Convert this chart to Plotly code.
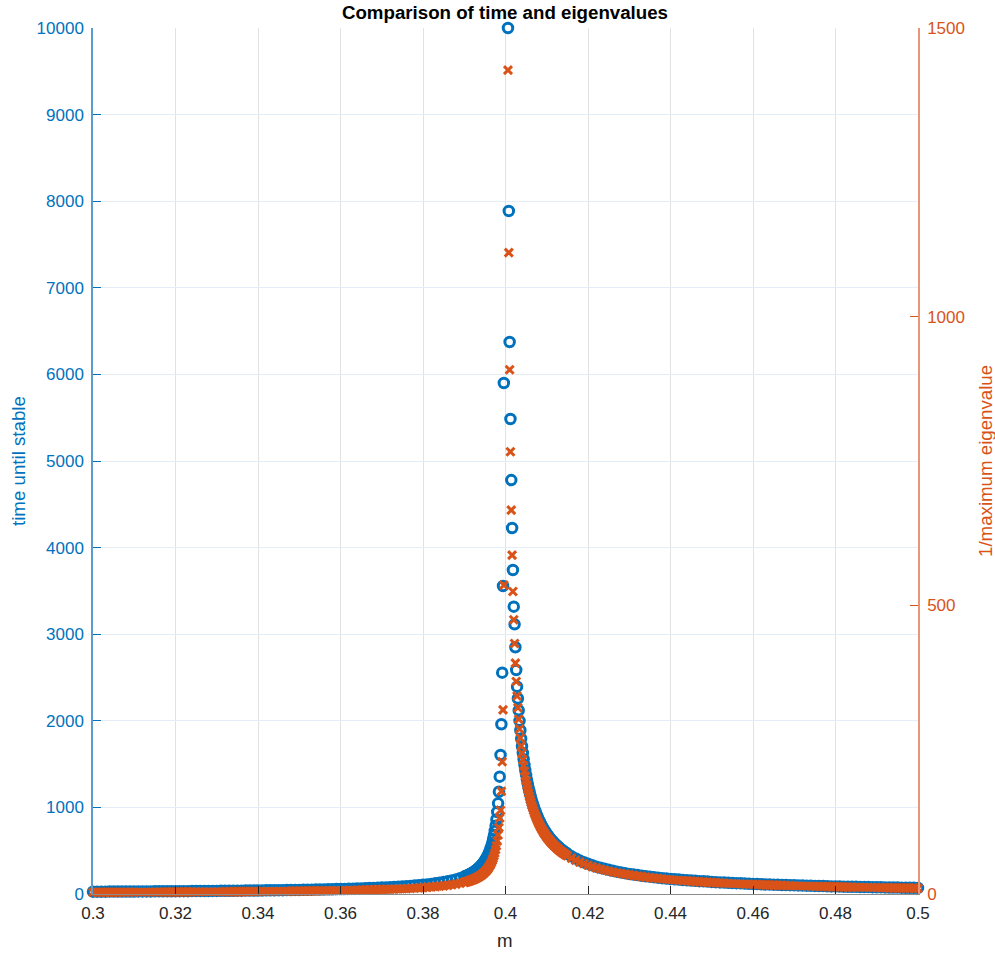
import plotly.graph_objects as go

# ---- sampling grid of the parameter m ----
def grid(start, stop, step):
    n = int(round((stop - start) / step)) + 1
    return [round(start + i * step, 4) for i in range(n)]

m_left_far = grid(0.300, 0.389, 0.001)      # 90 points
m_left_near = grid(0.3900, 0.3996, 0.0002)  # 49 points
m_right_near = grid(0.4006, 0.4150, 0.0002) # 73 points
m_right_far = grid(0.416, 0.500, 0.001)     # 85 points

# ---- time until stable (left axis) ----
time_left_far = [
    26.7, 27.0, 27.2, 27.4, 27.6, 27.9, 28.1, 28.4, 28.6, 28.9,
    29.1, 29.4, 29.7, 30.0, 30.2, 30.5, 30.8, 31.1, 31.5, 31.8,
    32.1, 32.4, 32.8, 33.1, 33.5, 33.9, 34.2, 34.6, 35.0, 35.4,
    35.9, 36.3, 36.7, 37.2, 37.7, 38.1, 38.6, 39.2, 39.7, 40.2,
    40.8, 41.4, 42.0, 42.6, 43.2, 43.9, 44.6, 45.3, 46.0, 46.8,
    47.6, 48.4, 49.3, 50.2, 51.1, 52.1, 53.1, 54.1, 55.3, 56.4,
    57.6, 58.9, 60.2, 61.6, 63.1, 64.7, 66.3, 68.1, 70.0, 71.9,
    74.0, 76.3, 78.7, 81.2, 84.0, 86.9, 90.2, 93.6, 97.4, 101.6,
    106.1, 111.1, 116.7, 122.8, 129.8, 137.6, 146.6, 156.9, 168.8, 182.9,
]
time_left_near = [
    199.8, 203.6, 207.6, 211.7, 216.0, 220.4, 225.1, 230.0, 235.1, 240.5,
    246.1, 252.1, 258.3, 264.9, 271.8, 279.1, 286.9, 295.1, 303.8, 313.1,
    323.0, 333.6, 345.0, 357.2, 370.3, 384.5,
    400, 417, 435, 455, 477, 501, 528, 559, 593, 632,
    676, 728, 788, 860, 947, 1047, 1181, 1355, 1605, 1960,
    2556, 3557, 5901,
]
time_right_near = [
    10000, 7887, 6374, 5485, 4780, 4226, 3741, 3318, 3114, 2849,
    2587, 2394, 2258, 2121, 2000, 1892, 1795, 1707, 1628, 1556,
    1489, 1429, 1373, 1321, 1273, 1228, 1186, 1148, 1111, 1077,
    1045, 1014, 986, 959, 933, 909, 886, 864, 843, 824,
    805, 787, 769, 753, 737, 722, 707, 693, 680, 667,
    654, 642, 631, 619, 609, 598, 588, 579, 569, 560,
    551, 543, 534, 526, 519, 511, 504, 496, 490, 483,
    476, 470, 464,
]
time_right_far = [
    435, 410, 386, 367, 349, 332, 316, 303, 291, 279,
    268, 258, 249, 241, 232, 225, 218, 211, 205, 200,
    194, 189, 183, 179, 174, 170, 167, 162, 159, 155,
    152, 148, 146, 143, 140, 137, 134, 132, 130, 127,
    125, 123, 120, 118, 116, 115, 113, 111, 109, 108,
    106, 104, 103, 102, 100, 99, 97, 96, 95, 93,
    92, 91, 90, 88, 88, 86, 85, 84, 83, 83,
    81, 81, 80, 78, 78, 77, 76, 75, 74, 74,
    73, 72, 71, 71, 70,
]

# ---- 1 / maximum eigenvalue (right axis) ----
eig_left_far = [
    2.98, 3.00, 3.02, 3.05, 3.07, 3.09, 3.12, 3.14, 3.17, 3.20,
    3.23, 3.25, 3.28, 3.31, 3.34, 3.37, 3.40, 3.43, 3.46, 3.50,
    3.53, 3.57, 3.60, 3.64, 3.68, 3.71, 3.75, 3.79, 3.83, 3.88,
    3.92, 3.96, 4.01, 4.06, 4.11, 4.15, 4.21, 4.26, 4.31, 4.37,
    4.43, 4.49, 4.55, 4.61, 4.68, 4.74, 4.81, 4.89, 4.96, 5.04,
    5.12, 5.20, 5.29, 5.38, 5.48, 5.58, 5.68, 5.79, 5.90, 6.02,
    6.14, 6.27, 6.40, 6.54, 6.69, 6.85, 7.02, 7.19, 7.38, 7.58,
    7.79, 8.01, 8.25, 8.51, 8.78, 9.08, 9.40, 9.74, 10.12, 10.53,
    10.98, 11.47, 12.02, 12.63, 13.32, 14.09, 14.97, 15.98, 17.15, 18.53,
]
eig_left_near = [
    20.18, 20.55, 20.93, 21.33, 21.75, 22.19, 22.64, 23.12, 23.61, 24.14,
    24.68, 25.26, 25.86, 26.50, 27.17, 27.88, 28.63, 29.43, 30.27, 31.17,
    32.13, 33.15, 34.25, 35.43, 36.69, 38.06,
    39.5, 41.2, 42.9, 44.8, 47.0, 49.3, 51.9, 54.8, 58.1, 61.8,
    66.1, 71.0, 76.8, 83.6, 91.9, 102.1, 115.0, 131.7, 145, 178,
    229, 319, 535,
]
eig_right_near = [
    1427, 1111, 908, 766, 665, 587, 524, 475, 434, 400,
    368, 343, 322.6, 303.0, 285.7, 270.3, 256.4, 243.9, 232.6, 222.2,
    212.8, 204.1, 196.1, 188.7, 181.8, 175.4, 169.5, 163.9, 158.7, 153.8,
    149.3, 144.9, 140.8, 137.0, 133.3, 129.9, 126.6, 123.5, 120.5, 117.6,
    114.9, 112.4, 109.9, 107.5, 105.3, 103.1, 101.0, 99.0, 97.1, 95.2,
    93.5, 91.7, 90.1, 88.5, 87.0, 85.5, 84.0, 82.6, 81.3, 80.0,
    78.7, 77.5, 76.3, 75.2, 74.1, 73.0, 71.9, 70.9, 69.9, 69.0,
    68.0, 67.1, 66.2,
]
eig_right_far = [
    62.1, 58.5, 55.2, 52.4, 49.8, 47.4, 45.2, 43.3, 41.5, 39.8,
    38.3, 36.9, 35.6, 34.4, 33.2, 32.2, 31.2, 30.2, 29.3, 28.5,
    27.7, 27.0, 26.2, 25.6, 24.9, 24.3, 23.8, 23.2, 22.7, 22.2,
    21.7, 21.2, 20.8, 20.4, 20.0, 19.6, 19.2, 18.8, 18.5, 18.1,
    17.8, 17.5, 17.2, 16.9, 16.6, 16.4, 16.1, 15.8, 15.6, 15.4,
    15.1, 14.9, 14.7, 14.5, 14.3, 14.1, 13.9, 13.7, 13.5, 13.3,
    13.1, 13.0, 12.8, 12.6, 12.5, 12.3, 12.2, 12.0, 11.9, 11.8,
    11.6, 11.5, 11.4, 11.2, 11.1, 11.0, 10.9, 10.7, 10.6, 10.5,
    10.4, 10.3, 10.2, 10.1, 10.0,
]

# ---- tick labels ----
x_ticks = [0.30, 0.32, 0.34, 0.36, 0.38, 0.40, 0.42, 0.44, 0.46, 0.48, 0.50]
x_tick_labels = ["0.3", "0.32", "0.34", "0.36", "0.38", "0.4",
                 "0.42", "0.44", "0.46", "0.48", "0.5"]
time_ticks = list(range(0, 10001, 1000))
time_tick_labels = [str(v) for v in time_ticks]
eig_ticks = [0, 500, 1000, 1500]
eig_tick_labels = ["0", "500", "1000", "1500"]

m_all = m_left_far + m_left_near + m_right_near + m_right_far
time_all = time_left_far + time_left_near + time_right_near + time_right_far
eig_all = eig_left_far + eig_left_near + eig_right_near + eig_right_far
assert len(m_left_far) == len(time_left_far) == len(eig_left_far)
assert len(m_left_near) == len(time_left_near) == len(eig_left_near)
assert len(m_right_near) == len(time_right_near) == len(eig_right_near)
assert len(m_right_far) == len(time_right_far) == len(eig_right_far)

BLUE = "#0072BD"
ORANGE = "#D95319"
DARK = "#262626"
FONT = "Liberation Sans, Arial, Helvetica, sans-serif"

fig = go.Figure()
fig.add_trace(go.Scatter(
    x=m_all, y=time_all, mode="markers", yaxis="y", cliponaxis=False,
    marker=dict(symbol="circle-open", size=9.5, color=BLUE,
                line=dict(color=BLUE, width=3)),
    name="time until stable",
))
fig.add_trace(go.Scatter(
    x=m_all, y=eig_all, mode="markers", yaxis="y2", cliponaxis=False,
    marker=dict(symbol="x-thin", size=8, color=ORANGE,
                line=dict(color=ORANGE, width=3)),
    name="1/maximum eigenvalue",
))

fig.update_layout(
    width=995, height=953,
    margin=dict(l=93, r=77, t=28, b=59),
    paper_bgcolor="white", plot_bgcolor="white",
    showlegend=False,
    font=dict(family=FONT, size=17, color=DARK),
    title=dict(text="Comparison of time and eigenvalues",
               font=dict(family=FONT, size=18.7, color="black", weight="bold"),
               x=(505 / 995), xanchor="center",
               y=1 - 12 / 953, yref="container", yanchor="middle"),
    xaxis=dict(
        range=[0.3, 0.5], tickvals=x_ticks, ticktext=x_tick_labels,
        showline=True, linecolor="#8c8c8c", linewidth=1,
        ticks="inside", ticklen=8, tickcolor=DARK, tickwidth=1,
        showgrid=True, gridcolor="#e2e2e2", gridwidth=1,
        zeroline=False, tickfont=dict(size=17, color=DARK),
        ticklabelstandoff=4,
    ),
    yaxis=dict(
        range=[0, 10000], tickvals=time_ticks, ticktext=time_tick_labels,
        showline=True, linecolor="#5a9bd0", linewidth=1.5,
        ticks="inside", ticklen=8, tickcolor=BLUE, tickwidth=1,
        showgrid=True, gridcolor="#e3eef8", gridwidth=1,
        zeroline=False, tickfont=dict(size=17, color=BLUE),
        ticklabelstandoff=4,
    ),
    yaxis2=dict(
        range=[0, 1500], tickvals=eig_ticks, ticktext=eig_tick_labels,
        overlaying="y", side="right", anchor="x",
        showline=True, linecolor="#e8957a", linewidth=1.5,
        ticks="inside", ticklen=8, tickcolor=ORANGE, tickwidth=1,
        showgrid=False, zeroline=False,
        tickfont=dict(size=17, color=ORANGE),
        ticklabelstandoff=4,
    ),
    annotations=[
        dict(text="time until stable", textangle=-90,
             xref="paper", yref="paper", x=(18 - 93) / 825, y=0.5,
             xanchor="center", yanchor="middle", showarrow=False,
             font=dict(family=FONT, size=18.7, color=BLUE)),
        dict(text="1/maximum eigenvalue", textangle=-90,
             xref="paper", yref="paper", x=(985 - 93) / 825, y=0.5,
             xanchor="center", yanchor="middle", showarrow=False,
             font=dict(family=FONT, size=18.7, color=ORANGE)),
        dict(text="m",
             xref="paper", yref="paper", x=(505 - 93) / 825, y=(894 - 940) / 866,
             xanchor="center", yanchor="middle", showarrow=False,
             font=dict(family=FONT, size=18.7, color=DARK)),
    ],
)

fig.write_html("out.html")
